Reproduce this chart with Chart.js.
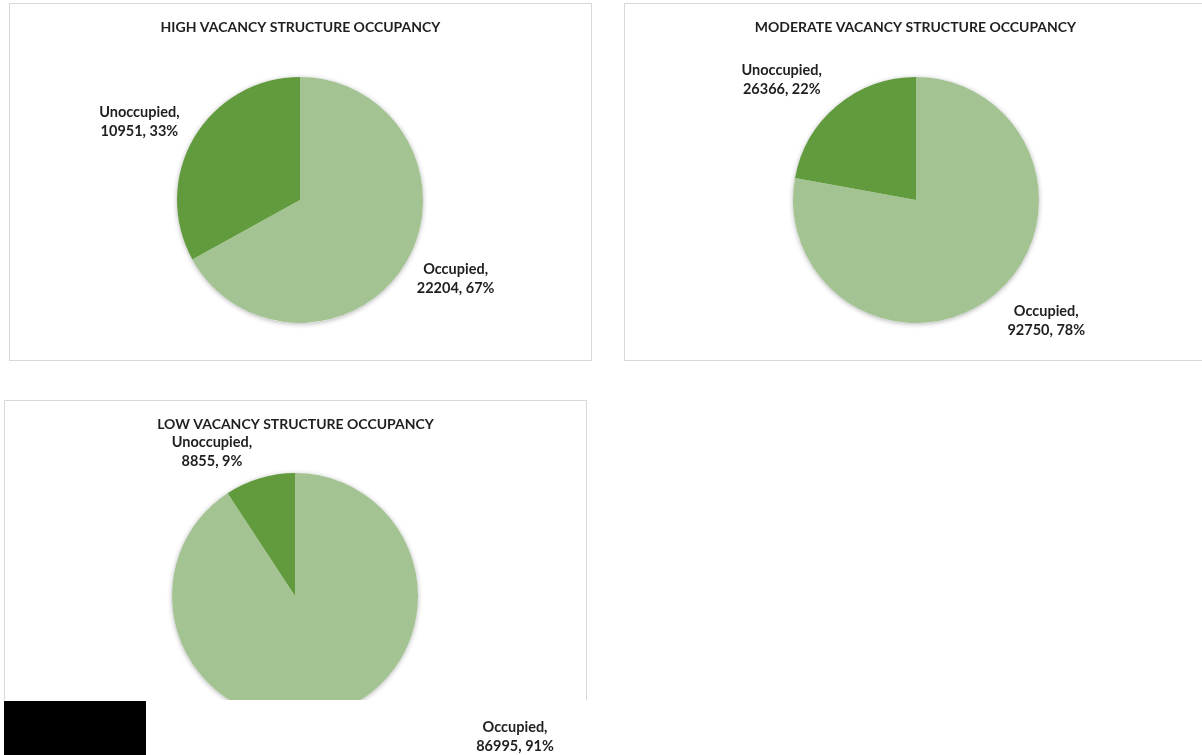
<!DOCTYPE html>
<html>
<head>
<meta charset="utf-8">
<script src="https://cdn.jsdelivr.net/npm/chart.js@4.4.1/dist/chart.umd.min.js"></script>
<style>
  html, body { margin:0; padding:0; background:#fff; width:1202px; height:755px; overflow:hidden; }
  .box { position:absolute; border:1px solid #d9d9d9; box-sizing:border-box; background:#fff; }
  canvas { position:absolute; }
  #blk { position:absolute; left:4px; top:701px; width:142px; height:54px; background:#000; }
</style>
</head>
<body>
<div class="box" style="left:9px;top:3px;width:583px;height:358px;"></div>
<div class="box" style="left:624px;top:3px;width:583px;height:358px;"></div>
<div class="box" style="left:4px;top:400px;width:583px;height:300px;border-bottom:none;"></div>
<canvas id="c1" width="581" height="356" style="left:10px;top:4px;"></canvas>
<canvas id="c2" width="581" height="356" style="left:625px;top:4px;"></canvas>
<canvas id="c3" width="581" height="354" style="left:5px;top:401px;"></canvas>
<div id="blk"></div>
<script>
// ---- data ----
const categories = ["Occupied", "Unoccupied"];
const highValues = [22204, 10951];
const moderateValues = [92750, 26366];
const lowValues = [86995, 8855];
const titles = [
  "HIGH VACANCY STRUCTURE OCCUPANCY",
  "MODERATE VACANCY STRUCTURE OCCUPANCY",
  "LOW VACANCY STRUCTURE OCCUPANCY"
];
const colors = ["#A3C492", "#629A3E"];

const FONT = "Lato, 'Open Sans', sans-serif";

const piePlugin = {
  id: 'pieDecor',
  beforeDatasetsDraw(chart) {
    const meta = chart.getDatasetMeta(0);
    const a = meta.data[0];
    if (!a) return;
    const p = a.getProps(['x','y','outerRadius'], true);
    const ctx = chart.ctx;
    ctx.save();
    ctx.shadowColor = 'rgba(0,0,0,0.30)';
    ctx.shadowBlur = 5;
    ctx.shadowOffsetX = 0;
    ctx.shadowOffsetY = 1;
    ctx.fillStyle = '#ffffff';
    ctx.beginPath();
    ctx.arc(p.x, p.y, p.outerRadius, 0, Math.PI*2);
    ctx.fill();
    ctx.restore();
  },
  afterDatasetsDraw(chart, args, opts) {
    const ctx = chart.ctx;
    if (opts.clipY) {
      ctx.save();
      ctx.fillStyle = '#ffffff';
      ctx.fillRect(0, opts.clipY, chart.width, chart.height - opts.clipY);
      ctx.restore();
    }
    // title
    ctx.save();
    ctx.fillStyle = '#1f1f1f';
    ctx.font = "bold 14px " + FONT;
    ctx.textAlign = 'center';
    ctx.textBaseline = 'middle';
    ctx.fillText(opts.title, chart.width/2, 23);
    ctx.restore();
    // data labels
    const meta = chart.getDatasetMeta(0);
    const data = chart.data.datasets[0].data;
    const total = data.reduce((s,v)=>s+v,0);
    meta.data.forEach((arc, i) => {
      const p = arc.getProps(['x','y','startAngle','endAngle','outerRadius'], true);
      const mid = (p.startAngle + p.endAngle)/2;
      const d = p.outerRadius * 1.45;
      const sh = (opts.shifts && opts.shifts[i]) || [0,0];
      const x = p.x + Math.cos(mid)*d + sh[0];
      const y = p.y + Math.sin(mid)*d + sh[1];
      const pct = Math.round(data[i]/total*100);
      ctx.save();
      ctx.fillStyle = '#1f1f1f';
      ctx.font = "bold 14.5px " + FONT;
      ctx.textAlign = 'center';
      ctx.textBaseline = 'middle';
      ctx.fillText(chart.data.labels[i] + ",", x, y - 9.5);
      ctx.fillText(data[i] + ", " + pct + "%", x, y + 9.5);
      ctx.restore();
    });
  }
};

function makePie(id, values, title, padding, shifts, clipY) {
  return new Chart(document.getElementById(id), {
    type: 'pie',
    data: {
      labels: categories,
      datasets: [{ data: values, backgroundColor: colors, borderWidth: 0, hoverOffset: 0 }]
    },
    options: {
      responsive: false,
      animation: false,
      devicePixelRatio: 1,
      layout: { padding: padding },
      plugins: {
        legend: { display: false },
        tooltip: { enabled: false },
        title: { display: false },
        pieDecor: { title: title, shifts: shifts, clipY: clipY }
      }
    },
    plugins: [piePlugin]
  });
}

makePie('c1', highValues, titles[0], {top:73, bottom:37, left:167, right:168}, [[2,-12],[-7,12]], 0);
makePie('c2', moderateValues, titles[1], {top:73, bottom:37, left:168, right:167}, [[16,-16],[-20,17]], 0);
makePie('c3', lowValues, titles[2], {top:72, bottom:36, left:167, right:168}, [[169,-30],[-32,27]], 299);
</script>
</body>
</html>
